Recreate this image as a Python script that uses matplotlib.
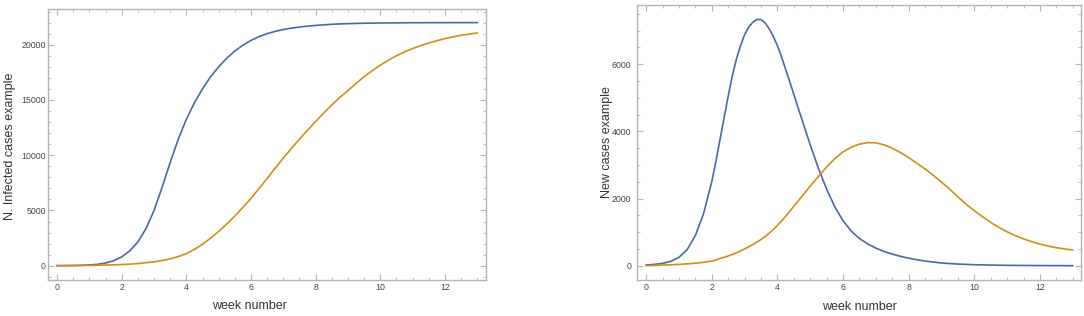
import numpy as np
import matplotlib
matplotlib.use("Agg")
import matplotlib.pyplot as plt
from matplotlib.ticker import MultipleLocator
from matplotlib import rcParams

rcParams['font.family'] = ['Liberation Sans', 'DejaVu Sans']

# cumulative infected (left panel), read every quarter week
weeks_total = np.arange(0, 13.01, 0.25)
total_blue = [10, 15, 25, 40, 70, 130, 250, 450, 800, 1350, 2150, 3350, 5000, 7100,
              9350, 11450, 13250, 14750, 16000, 17100, 18000, 18780, 19430, 19960,
              20390, 20730, 21000, 21210, 21370, 21500, 21600, 21680, 21745, 21800,
              21845, 21880, 21905, 21925, 21942, 21955, 21965, 21973, 21979, 21984,
              21988, 21991, 21993, 21995, 21996, 21997, 21998, 21999, 22000]
total_orange = [0, 5, 10, 20, 30, 45, 60, 85, 110, 150, 200, 270, 350, 470, 620, 830,
                1100, 1480, 1950, 2500, 3100, 3780, 4500, 5280, 6100, 6990, 7900, 8830,
                9750, 10620, 11450, 12270, 13050, 13820, 14550, 15230, 15850, 16500,
                17100, 17650, 18150, 18600, 19000, 19350, 19650, 19920, 20150, 20360,
                20550, 20710, 20850, 20960, 21060]

# new cases (right panel), finer reading around the blue peak
weeks_new = np.concatenate([np.arange(0, 1.8, 0.25),
                            np.arange(2.0, 5.01, 0.125),
                            np.arange(5.25, 13.01, 0.25)])
new_blue = [20, 40, 70, 130, 250, 480, 900, 1550,
            2500, 3100, 3750, 4400, 5050, 5650, 6150, 6550, 6880, 7100, 7250, 7330,
            7330, 7230, 7050, 6830, 6550, 6220, 5850, 5480, 5100, 4720, 4350, 3970, 3600,
            2900, 2280, 1750, 1340, 1030, 810, 650, 525, 425, 345, 280, 225, 180, 140,
            108, 82, 65, 50, 40, 30, 25, 20, 15, 12, 10, 8, 6, 5, 4, 3, 2, 2]
new_orange = [0, 10, 20, 30, 40, 55, 75, 100,
              140, 175, 215, 250, 290, 335, 385, 440, 500, 565, 630, 705, 780, 870, 970,
              1080, 1200, 1330, 1470, 1620, 1770, 1920, 2070, 2220, 2370,
              2660, 2940, 3190, 3390, 3530, 3620, 3665, 3660, 3600, 3500, 3370, 3220,
              3050, 2880, 2690, 2490, 2280, 2050, 1830, 1640, 1460, 1290, 1140, 1010,
              895, 800, 715, 645, 585, 535, 500, 470]

blue = "#4a68a8"
orange = "#d48d17"
frame = "#b4b4b4"

fig = plt.figure(figsize=(10.84, 3.16), dpi=100)
ax1 = fig.add_axes([0.0443, 0.1139, 0.404, 0.8576])
ax2 = fig.add_axes([0.5876, 0.1139, 0.4096, 0.870])


def style(ax, ymaj, ymin, ypad):
    for s in ax.spines.values():
        s.set_color(frame)
        s.set_linewidth(1.0)
    ax.xaxis.set_major_locator(MultipleLocator(2))
    ax.xaxis.set_minor_locator(MultipleLocator(0.5))
    ax.yaxis.set_major_locator(MultipleLocator(ymaj))
    ax.yaxis.set_minor_locator(MultipleLocator(ymin))
    ax.tick_params(which="both", direction="in", top=True, right=True,
                   color=frame, labelsize=6.3, labelcolor="#444444")
    ax.tick_params(which="major", length=4, width=0.8)
    ax.tick_params(which="minor", length=2, width=0.6)
    ax.tick_params(axis="x", pad=2.5)
    ax.tick_params(axis="y", pad=ypad)
    ax.set_xlabel("week number", fontsize=9, color="#333333")


ax1.plot(weeks_total, total_blue, color=blue, lw=1.2)
ax1.plot(weeks_total, total_orange, color=orange, lw=1.2)
ax1.set_xlim(-0.28, 13.27)
ax1.set_ylim(-1290, 23230)
style(ax1, 5000, 1000, 1.5)
ax1.set_ylabel("N. Infected cases example", fontsize=9, color="#333333")
ax1.xaxis.set_label_coords(0.46, -0.075)
ax1.yaxis.set_label_coords(-0.074, 0.494)

ax2.plot(weeks_new, new_blue, color=blue, lw=1.2)
ax2.plot(weeks_new, new_orange, color=orange, lw=1.2)
ax2.set_xlim(-0.28, 13.25)
ax2.set_ylim(-425, 7760)
style(ax2, 2000, 500, 4)
ax2.set_ylabel("New cases example", fontsize=9, color="#333333")
ax2.xaxis.set_label_coords(0.502, -0.075)
ax2.yaxis.set_label_coords(-0.054, 0.502)

plt.savefig("out.png", dpi=100)
